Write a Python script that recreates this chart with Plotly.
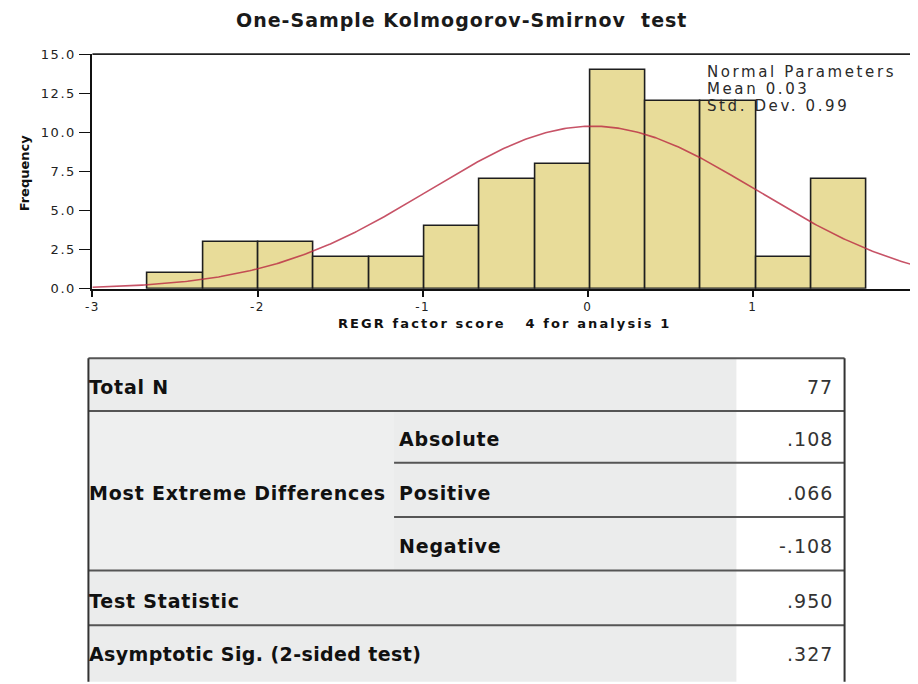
import numpy as np
import plotly.graph_objects as go

# ---------------- data ----------------
TITLE = "One-Sample Kolmogorov-Smirnov \u00a0test"
X_TITLE = "REGR factor score \u00a0\u00a04 for analysis 1"
Y_TITLE = "Frequency"

bin_left = -2.665          # left edge of first bin
bin_width = 0.335          # width of each bin
counts = [1, 3, 3, 2, 2, 4, 7, 8, 14, 12, 12, 2, 7]

N_TOTAL = 77
MEAN = 0.03
STD_DEV = 0.99
norm_labels = ["Normal Parameters", "Mean 0.03", "Std. Dev. 0.99"]

x_ticks = [-3, -2, -1, 0, 1, 2]
y_ticks = [0.0, 2.5, 5.0, 7.5, 10.0, 12.5, 15.0]

row_labels = ["Total N", "Most Extreme Differences", "Test Statistic",
              "Asymptotic Sig. (2-sided test)"]
sub_labels = ["Absolute", "Positive", "Negative"]
table_values = ["77", ".108", ".066", "-.108", ".950", ".327"]

# ---------------- geometry helpers (page has an 8px body margin) ----------------
OFF = 8
W, H = 918 - OFF, 684 - OFF


def px(x):
    return (x - OFF) / W


def py(y):
    return 1 - (y - OFF) / H


def spaced(text, ls, bold=False):
    t = '<span style="letter-spacing:%.1fpx">%s</span>' % (ls, text)
    return "<b>" + t + "</b>" if bold else t


centers = [bin_left + bin_width * (i + 0.5) for i in range(len(counts))]
xc = np.linspace(-3, 2, 400)
yc = N_TOTAL * bin_width * np.exp(-0.5 * ((xc - MEAN) / STD_DEV) ** 2) / (STD_DEV * np.sqrt(2 * np.pi))

fig = go.Figure()
fig.add_trace(go.Bar(
    x=centers, y=counts, width=bin_width,
    marker=dict(color="#e8dc99", line=dict(color="#1e1e1e", width=1.6)),
    hoverinfo="x+y", showlegend=False,
))
fig.add_trace(go.Scatter(
    x=xc, y=yc, mode="lines",
    line=dict(color="rgba(185,40,65,0.8)", width=1.6),
    hoverinfo="skip", showlegend=False,
))

fig.update_layout(
    width=W, height=H,
    margin=dict(l=0, r=0, t=0, b=0),
    paper_bgcolor="white", plot_bgcolor="white",
    bargap=0,
    xaxis=dict(
        domain=[px(86), px(918)], anchor="y",
        range=[-3, 2], tickvals=x_ticks,
        ticktext=[spaced(str(v), 1.5) for v in x_ticks],
        showgrid=False, zeroline=False,
        showline=True, linecolor="#111111", linewidth=1.6,
        ticks="outside", ticklen=6, tickwidth=1.6, tickcolor="#111111",
        tickfont=dict(family="DejaVu Sans", size=12, color="#222222"),
    ),
    yaxis=dict(
        domain=[py(288), py(48)], anchor="x",
        range=[0, 15], tickvals=y_ticks,
        ticktext=[spaced("%.1f" % v, 1.6) for v in y_ticks],
        showgrid=False, zeroline=False,
        showline=True, linecolor="#111111", linewidth=1.6,
        ticks="outside", ticklen=12, tickwidth=1.4, tickcolor="#111111",
        tickfont=dict(family="DejaVu Sans", size=13, color="#222222"),
    ),
)

shapes = []
annotations = []

# axis titles
annotations.append(dict(text=spaced(X_TITLE, 2.1, bold=True), xref="paper", yref="paper",
                        x=px(501), y=py(323), xanchor="center", yanchor="middle",
                        borderpad=0, borderwidth=0,
                        showarrow=False, font=dict(family="DejaVu Sans", size=13, color="#111111")))
annotations.append(dict(text="<b>" + Y_TITLE + "</b>", xref="paper", yref="paper",
                        x=px(18), y=py(169), xanchor="center", yanchor="middle", textangle=-90,
                        showarrow=False, font=dict(family="DejaVu Sans", size=13, color="#111111")))

# top border of chart
shapes.append(dict(type="line", xref="paper", yref="paper",
                   x0=px(86), x1=px(918), y0=py(48), y1=py(48),
                   line=dict(color="#222222", width=1.6)))

# title
annotations.append(dict(text=spaced(TITLE, 1.0, bold=True), xref="paper", yref="paper",
                        x=px(458), y=py(13), xanchor="center", yanchor="middle",
                        showarrow=False, font=dict(family="DejaVu Sans", size=19, color="#1a1a1a")))

# normal parameters
for lbl, yy in zip(norm_labels, [66, 83.5, 101]):
    annotations.append(dict(text=spaced(lbl, 2.6), xref="paper", yref="paper",
                            x=px(705), y=py(yy), xanchor="left", yanchor="middle",
                            borderpad=0, borderwidth=0,
                            showarrow=False, font=dict(family="DejaVu Sans", size=15, color="#2a2a2a")))

# ---------------- table ----------------
T_L, T_R, T_V, T_MID = 82, 844, 735, 390
T_TOP, T_BOT = 359, 690
row_lines = [359, 413, 576, 632]
sub_lines = [466, 521.5]

shapes.append(dict(type="rect", xref="paper", yref="paper",
                   x0=px(T_L), x1=px(T_V), y0=py(T_TOP), y1=py(T_BOT),
                   fillcolor="#ebecec", line=dict(width=0), layer="below"))
shapes.append(dict(type="rect", xref="paper", yref="paper",
                   x0=px(T_L), x1=px(T_MID), y0=py(413), y1=py(576),
                   fillcolor="#eeefef", line=dict(width=0), layer="below"))
for yy in row_lines:
    shapes.append(dict(type="line", xref="paper", yref="paper",
                       x0=px(T_L), x1=px(T_R), y0=py(yy), y1=py(yy),
                       line=dict(color="#555555", width=2)))
for yy in sub_lines:
    shapes.append(dict(type="line", xref="paper", yref="paper",
                       x0=px(T_MID), x1=px(T_R), y0=py(yy), y1=py(yy),
                       line=dict(color="#555555", width=2)))
for xx in (T_L, T_R):
    shapes.append(dict(type="line", xref="paper", yref="paper",
                       x0=px(xx), x1=px(xx), y0=py(T_TOP), y1=py(T_BOT),
                       line=dict(color="#333333", width=2)))

LBL_FONT = dict(family="DejaVu Sans", size=19, color="#111111")
VAL_FONT = dict(family="DejaVu Sans", size=19, color="#333333")

row_label_y = [388, 497, 607, 661]
row_ls = [0.8, 0.8, 0.8, 0.4]
for lbl, yy, ls in zip(row_labels, row_label_y, row_ls):
    annotations.append(dict(text=spaced(lbl, ls, bold=True), xref="paper", yref="paper",
                            x=px(81), y=py(yy), xanchor="left", yanchor="middle",
                            showarrow=False, font=LBL_FONT))
sub_label_y = [442, 497, 551]
for lbl, yy in zip(sub_labels, sub_label_y):
    annotations.append(dict(text=spaced(lbl, 0.8, bold=True), xref="paper", yref="paper",
                            x=px(393), y=py(yy), xanchor="left", yanchor="middle",
                            showarrow=False, font=LBL_FONT))
value_y = [388, 442, 497, 551, 607, 661]
for val, yy in zip(table_values, value_y):
    annotations.append(dict(text=spaced(val, 1.0), xref="paper", yref="paper",
                            x=px(834), y=py(yy), xanchor="right", yanchor="middle",
                            showarrow=False, font=VAL_FONT))

fig.update_layout(shapes=shapes, annotations=annotations)

fig.write_html("out.html")
